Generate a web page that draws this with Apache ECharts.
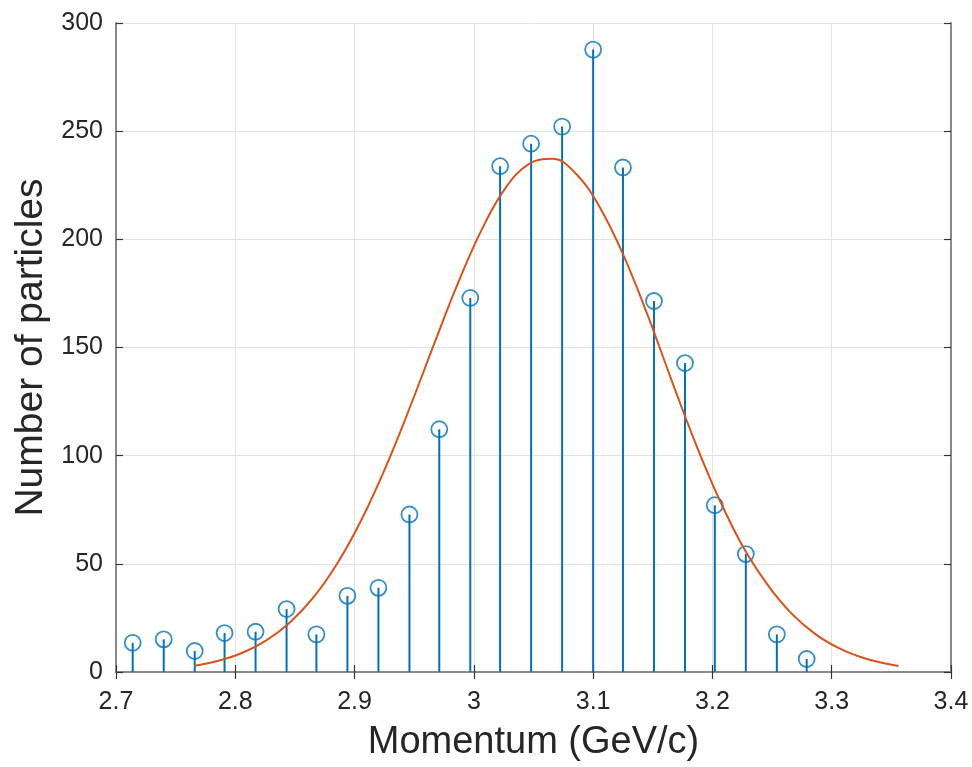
<!DOCTYPE html>
<html>
<head>
<meta charset="utf-8">
<script src="https://cdn.jsdelivr.net/npm/echarts@6/dist/echarts.min.js"></script>
<style>
html,body{margin:0;padding:0;background:#fff;}
#chart{width:972px;height:767px;}
</style>
</head>
<body>
<div id="chart"></div>
<script>
// Stem data: bin centres (GeV/c) and counts
const momentum = [2.714, 2.740, 2.766, 2.791, 2.817, 2.843, 2.868, 2.894, 2.920, 2.946, 2.971, 2.997,
                  3.022, 3.048, 3.074, 3.100, 3.125, 3.151, 3.177, 3.202, 3.228, 3.254, 3.279];
const counts   = [13.5, 15.1, 9.7, 18.0, 18.6, 29.1, 17.4, 35.2, 38.9, 72.8, 112.2, 172.9,
                  233.8, 244.2, 252.1, 287.7, 233.2, 171.5, 142.8, 77.1, 54.5, 17.4, 6.0];
// Fitted curve
const fitX = [2.766, 2.786, 2.806, 2.826, 2.846, 2.866, 2.886, 2.906, 2.926, 2.946, 2.966, 2.986,
              3.006, 3.026, 3.046, 3.066, 3.086, 3.106, 3.126, 3.146, 3.166, 3.186, 3.206, 3.226,
              3.246, 3.266, 3.286, 3.306, 3.326, 3.346, 3.356];
const fitY = [2.9, 5.2, 8.9, 14.6, 23.0, 34.8, 50.6, 70.6, 94.6, 121.8, 150.6, 178.8,
              203.8, 223.3, 234.8, 237.2, 230.1, 214.4, 191.9, 164.5, 134.5, 105.5, 79.5, 57.5,
              40.5, 27.2, 17.6, 11.0, 6.6, 3.8, 2.8];
const xTicks = {min: 2.7, max: 3.4, step: 0.1};
const yTicks = {min: 0, max: 300, step: 50};

const stemData = momentum.map((m, i) => [m, counts[i]]);
const fitData = fitX.map((x, i) => [x, fitY[i]]);

const chart = echarts.init(document.getElementById('chart'), null, {renderer: 'canvas'});
const font = 'Liberation Sans, Arial, Helvetica, sans-serif';
const axisLine = {show: true, lineStyle: {color: '#8a8a8a', width: 2}};
const tick = {show: true, inside: true, length: 7, lineStyle: {color: '#333', width: 1.2}};
const grid = {show: true, lineStyle: {color: '#e3e3e3', width: 1}};

chart.setOption({
  backgroundColor: '#fff',
  animation: false,
  grid: {left: 116, right: 21, top: 23, bottom: 95, containLabel: false},
  xAxis: [{
    type: 'value', min: xTicks.min, max: xTicks.max, interval: xTicks.step,
    name: 'Momentum (GeV/c)', nameLocation: 'middle', nameGap: 52,
    nameTextStyle: {fontFamily: font, fontSize: 38, color: '#262626'},
    axisLine: axisLine, axisTick: tick, splitLine: grid,
    axisLabel: {fontFamily: font, fontSize: 25, color: '#262626', margin: 18}
  }, {
    type: 'value', position: 'top', min: xTicks.min, max: xTicks.max, interval: xTicks.step,
    axisLine: axisLine, axisTick: tick, splitLine: {show: false}, axisLabel: {show: false}
  }],
  yAxis: [{
    type: 'value', min: yTicks.min, max: yTicks.max, interval: yTicks.step,
    name: 'Number of particles', nameLocation: 'middle', nameGap: 62,
    nameTextStyle: {fontFamily: font, fontSize: 39, color: '#262626'},
    axisLine: axisLine, axisTick: tick, splitLine: grid,
    axisLabel: {fontFamily: font, fontSize: 25, color: '#262626', margin: 13}
  }, {
    type: 'value', position: 'right', min: yTicks.min, max: yTicks.max, interval: yTicks.step,
    axisLine: axisLine, axisTick: tick, splitLine: {show: false}, axisLabel: {show: false}
  }],
  series: [{
    type: 'custom',
    xAxisIndex: 0, yAxisIndex: 0,
    data: stemData,
    z: 2,
    renderItem: function (params, api) {
      const top = api.coord([api.value(0), api.value(1)]);
      const base = api.coord([api.value(0), 0]);
      return {
        type: 'line',
        shape: {x1: base[0], y1: base[1], x2: top[0], y2: top[1]},
        style: {stroke: '#0072BD', lineWidth: 2}
      };
    }
  }, {
    type: 'scatter',
    xAxisIndex: 0, yAxisIndex: 0,
    data: stemData,
    symbol: 'circle', symbolSize: 16,
    itemStyle: {color: 'rgba(0,0,0,0)', borderColor: '#0072BD', borderWidth: 1.8},
    z: 3
  }, {
    type: 'line',
    xAxisIndex: 0, yAxisIndex: 0,
    data: fitData,
    smooth: 0.4, showSymbol: false,
    lineStyle: {color: '#D95319', width: 2},
    z: 4
  }]
});
</script>
</body>
</html>
